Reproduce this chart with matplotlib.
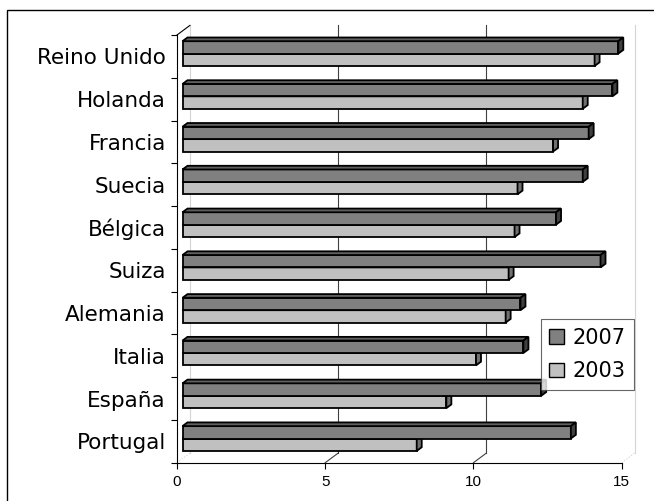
import matplotlib
matplotlib.use("Agg")
import matplotlib.pyplot as plt
from matplotlib.patches import Polygon, Patch, Rectangle

# datos
paises = ['Reino Unido', 'Holanda', 'Francia', 'Suecia', 'Bélgica',
          'Suiza', 'Alemania', 'Italia', 'España', 'Portugal']
v2007 = [14.7, 14.5, 13.7, 13.5, 12.6, 14.1, 11.4, 11.5, 12.1, 13.1]
v2003 = [13.9, 13.5, 12.5, 11.3, 11.2, 11.0, 10.9, 9.9, 8.9, 7.9]
xticks = [0, 5, 10, 15]

W, H = 654, 501
fig = plt.figure(figsize=(W / 100, H / 100), dpi=100)

# front plane of the plot area, in pixels
x0, x1 = 177.0, 621.7
ytop, ybot = 35.0, 462.7
ax = fig.add_axes([x0 / W, 1 - ybot / H, (x1 - x0) / W, (ybot - ytop) / H])
ax.set_xlim(0, 15)
ax.set_ylim(-0.5, len(paises) - 0.5)
ax.patch.set_alpha(0)

pxx = (x1 - x0) / 15.0
pxy = (ybot - ytop) / len(paises)

# depth of the walls and of the bars (pixel offsets -> data units)
wx, wy = 12.9 / pxx, 9.6 / pxy
ox, oy = 5.5 / pxx, 2.8 / pxy
dx, dy = 5.0 / pxx, 3.7 / pxy
bh = 12.4 / pxy

ymin, ymax = -0.5, len(paises) - 0.5

# back wall gridlines and floor lines
for v in xticks:
    light = v in (0, 15)
    col = '#d4d4d4' if light else '#404040'
    ls = ':' if light else '-'
    ax.plot([v, v + wx], [ymin, ymin + wy], color=col, lw=0.8, ls=ls, clip_on=False)
    ax.plot([v + wx, v + wx], [ymin + wy, ymax + wy], color=col, lw=0.8, clip_on=False)
ax.plot([0, wx], [ymax, ymax + wy], color='black', lw=0.8, clip_on=False)

centros = [len(paises) - 1 - i for i in range(len(paises))]


def barra3d(y, vals, base, cara, arriba, lado):
    ax.barh([c + base for c in y], vals, height=bh, left=ox, align='edge',
            color=cara, edgecolor='black', linewidth=1.3, zorder=3)
    for c, v in zip(y, vals):
        b = c + base
        t = b + bh
        top = Polygon([(ox, t), (ox + v, t), (ox + v + dx, t + dy), (ox + dx, t + dy)],
                      closed=True, facecolor=arriba, edgecolor='black', lw=1.3,
                      zorder=3, clip_on=False)
        side = Polygon([(ox + v, b), (ox + v + dx, b + dy), (ox + v + dx, t + dy), (ox + v, t)],
                       closed=True, facecolor=lado, edgecolor='black', lw=1.3,
                       zorder=3, clip_on=False)
        ax.add_patch(top)
        ax.add_patch(side)


# 2003 drawn first so the 2007 bar hides its top face
barra3d(centros, v2003, oy - bh, '#c0c0c0', '#a0a0a0', '#707070')
barra3d(centros, v2007, oy, '#808080', '#606060', '#404040')

ax.set_yticks([c + 0.5 for c in range(len(paises))] + [-0.5])
ax.set_yticklabels([])
ax.set_yticks(centros, minor=True)
ax.set_yticklabels(paises, minor=True, family='DejaVu Sans', fontsize=15.5)
ax.tick_params(axis='y', which='minor', length=0, pad=8)
ax.tick_params(axis='y', which='major', length=4.3, width=0.8, direction='out')

ax.set_xticks(xticks)
ax.set_xticklabels([str(v) for v in xticks], family='Liberation Sans', fontsize=11)
ax.tick_params(axis='x', length=4.3, width=0.8, pad=4.5)

for s in ('top', 'right'):
    ax.spines[s].set_visible(False)
for s in ('left', 'bottom'):
    ax.spines[s].set_linewidth(0.8)

handles = [Patch(facecolor='#808080', edgecolor='black', lw=1.0, label='2007'),
           Patch(facecolor='#c0c0c0', edgecolor='black', lw=1.0, label='2003')]
leg = fig.legend(handles=handles, loc='upper left',
                 bbox_to_anchor=(540.7 / W, 1 - 319.3 / H),
                 prop={'family': 'DejaVu Sans', 'size': 15},
                 frameon=True, fancybox=False, borderpad=0.4,
                 handlelength=0.7, handleheight=0.7, handletextpad=0.45,
                 labelspacing=0.65, borderaxespad=0)
leg.get_frame().set_edgecolor('#404040')
leg.get_frame().set_linewidth(0.8)

# chart frame
fig.add_artist(Rectangle((7 / W, -0.1), 1.2, 1 - 10 / H + 0.1,
                         transform=fig.transFigure, fill=False,
                         edgecolor='black', lw=1.0))

fig.savefig('out.png', dpi=100)
